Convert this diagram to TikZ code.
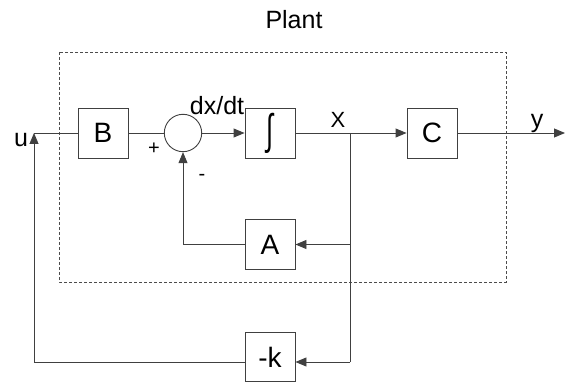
\documentclass[tikz,border=0pt]{standalone}
\usepackage{fontspec}
\usepackage{graphicx}
\setmainfont{Liberation Sans}
\usetikzlibrary{arrows.meta}
\begin{document}
\begin{tikzpicture}[x=1pt,y=-1pt,
  ln/.style={draw=black!75,line width=0.9pt},
  arr/.style={ln,-{Triangle[length=11pt,width=9pt]}},
  blk/.style={ln,fill=white,minimum width=50pt,minimum height=50pt,inner sep=0pt,font=\fontsize{28}{30}\selectfont},
  sumc/.style={ln,circle,minimum size=37.4pt,inner sep=0pt},
  lbl/.style={inner sep=0pt,font=\fontsize{25}{27}\selectfont},
  sgn/.style={inner sep=0pt,font=\fontsize{20}{22}\selectfont}]
\useasboundingbox (0,0) rectangle (568,382);
\draw[draw=black!70,line width=0.8pt,dash pattern=on 3pt off 2pt] (59,52) rectangle (506,282);
\node[lbl] (plant) at (294,20) {Plant};
\node[blk] (B) at (103,133) {B};
\node[sumc] (S) at (183,133) {};
\node[blk] (I) at (270,133) {};
\node[inner sep=0pt,font=\fontsize{34}{36}\selectfont] (intg) at (I.center) {\scalebox{0.75}[1.25]{∫}};
\node[blk] (C) at (432,133) {C};
\node[blk] (A) at (270,244.5) {A};
\node[blk,minimum height=49.5pt] (K) at (270,357) {-k};
\coordinate (j) at (350,133);
\coordinate (ja) at (350,244.5);
\coordinate (jk) at (350,362);
\coordinate (ul) at (34,133);
\coordinate (kl) at (34,362);
\coordinate (yend) at (565,133);
\draw[ln] (ul) -- (B.west);
\draw[ln] (B.east) -- (S.west);
\draw[arr] (S.east) -- (I.west);
\draw[arr] (I.east) -- (C.west);
\draw[arr] (C.east) -- (yend);
\draw[ln] (j) -- (jk);
\draw[arr] (ja) -- (A.east);
\draw[arr] (jk) -- (K.east |- jk);
\draw[arr] (A.west) -| (S.south);
\draw[arr] (K.west |- kl) -- (kl) -- (ul);
\node[lbl] (u) at (21,140) {u};
\node[lbl] (dxdt) at (217,106) {dx/dt};
\node[lbl,font=\fontsize{22}{24}\selectfont] (X) at (338,120) {X};
\node[lbl] (y) at (537,123) {y};
\node[sgn] (plus) at (154,149) {+};
\node[sgn] (minus) at (202,177) {-};
\end{tikzpicture}
\end{document}
